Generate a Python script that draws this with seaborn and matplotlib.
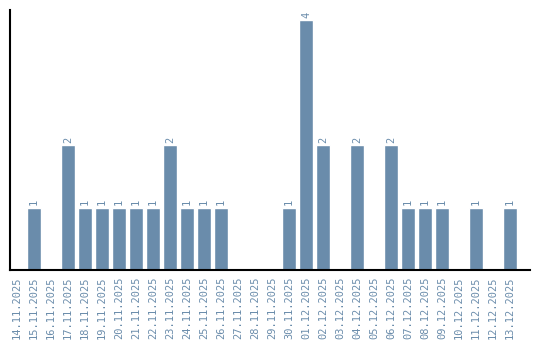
import matplotlib
matplotlib.use("Agg")
import matplotlib.pyplot as plt
import seaborn as sns
import pandas as pd

dates = ["14.11.2025", "15.11.2025", "16.11.2025", "17.11.2025", "18.11.2025",
         "19.11.2025", "20.11.2025", "21.11.2025", "22.11.2025", "23.11.2025",
         "24.11.2025", "25.11.2025", "26.11.2025", "27.11.2025", "28.11.2025",
         "29.11.2025", "30.11.2025", "01.12.2025", "02.12.2025", "03.12.2025",
         "04.12.2025", "05.12.2025", "06.12.2025", "07.12.2025", "08.12.2025",
         "09.12.2025", "10.12.2025", "11.12.2025", "12.12.2025", "13.12.2025"]
counts = [0, 1, 0, 2, 1, 1, 1, 1, 1, 2, 1, 1, 1, 0, 0, 0, 1, 4, 2, 0, 2, 0, 2,
          1, 1, 1, 0, 1, 0, 1]

color = "#6a8cab"
df = pd.DataFrame({"date": dates, "count": counts})

sns.set_style("white")
fig = plt.figure(figsize=(5.4, 3.4), dpi=100)
ax = fig.add_axes([10/540, 70/340, 520/540, 260/340])
sns.barplot(data=df, x="date", y="count", color=color, saturation=1,
            width=14/17, ax=ax)

for i, v in enumerate(counts):
    if v > 0:
        ax.text(i, v + 0.04, str(v), rotation=90, ha="center", va="bottom",
                color=color, fontsize=7.5, family="DejaVu Sans Mono")

ax.set_xlim(-7/17, 29 + 20/17)
ax.set_ylim(0, 4 + 10/62.5)
ax.set_xlabel("")
ax.set_ylabel("")
ax.set_yticks([])
ax.tick_params(axis="x", length=0, pad=5)
for lab in ax.get_xticklabels():
    lab.set_rotation(90)
    lab.set_color(color)
    lab.set_fontsize(7.5)
    lab.set_family("DejaVu Sans Mono")
for s in ["top", "right"]:
    ax.spines[s].set_visible(False)
for s in ["left", "bottom"]:
    ax.spines[s].set_color("black")
    ax.spines[s].set_linewidth(1.5)

fig.savefig("out.png", dpi=100)
